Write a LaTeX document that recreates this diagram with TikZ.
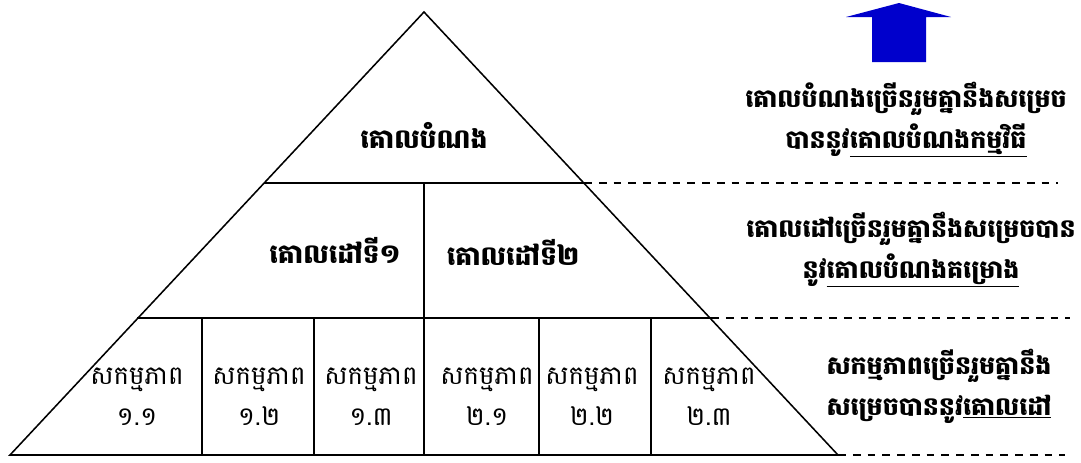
\documentclass[tikz,border=0pt]{standalone}
\usepackage{fontspec}
\newfontfamily\khmer[Script=Khmer]{Battambang}
\usetikzlibrary{positioning}
\definecolor{arrowblue}{RGB}{0,0,204}
\tikzset{
    level/.style={font=\khmer\bfseries\fontsize{18}{29}\selectfont, align=center},
    goal/.style={font=\khmer\bfseries\fontsize{19}{24}\selectfont},
    activity/.style={font=\khmer\fontsize{18.5}{29}\selectfont, align=center},
    sep/.style={dashed, dash pattern=on 5.5pt off 5pt, line width=0.9pt}
}
\begin{document}
\begin{tikzpicture}[x=0.025cm, y=-0.025cm, line width=1.1pt]
    \useasboundingbox (0,0) rectangle (1081,462);
    % pyramid
    \coordinate (apex) at (424,12);
    \coordinate (bl) at (10,455);
    \coordinate (br) at (838,455);
    \draw (apex) -- (bl) -- (br) -- cycle;
    \draw (264,183) coordinate (l1a) -- (584,183) coordinate (l1b);
    \draw (137,318) coordinate (l2a) -- (711,318) coordinate (l2b);
    \draw (424,183) -- (424,455);
    \foreach \x in {202,314,539,651} {
        \draw (\x,318) -- (\x,455);
    }
    % dashed separators
    \draw[sep] (l1b) -- (1058,183);
    \draw[sep] (l2b) -- (1070,318);
    \draw[sep] (br) -- (1065,455);
    % arrow
    \fill[arrowblue] (899,3) -- (951,17) -- (926,17) -- (926,62) -- (872,62) -- (872,17) -- (846,17) -- cycle;
    % labels in pyramid
    \node[goal] (purpose) at (424,135) {គោលបំណង};
    \node[goal] (g1) at (335,250) {គោលដៅទី១};
    \node[goal] (g2) at (513,252) {គោលដៅទី២};
    \foreach \n/\x/\t in {a11/137/១.១, a12/259/១.២, a13/371/១.៣, a21/487/២.១, a22/592/២.២, a23/709/២.៣} {
        \node[activity] (\n) at (\x,397) {សកម្មភាព\\\t};
    }
    % labels on the right
    \node[level] (lvpurpose) at (906,120) {គោលបំណងច្រើនរួមគ្នានឹងសម្រេច\\បាននូវ\underline{គោលបំណងកម្មវិធី}};
    \node[level] (lvgoal) at (911,250) {គោលដៅច្រើនរួមគ្នានឹងសម្រេចបាន\\នូវ\underline{គោលបំណងគម្រោង}};
    \node[level] (lvact) at (939,386) {សកម្មភាពច្រើនរួមគ្នានឹង\\សម្រេចបាននូវ\underline{គោលដៅ}};
\end{tikzpicture}
\end{document}
